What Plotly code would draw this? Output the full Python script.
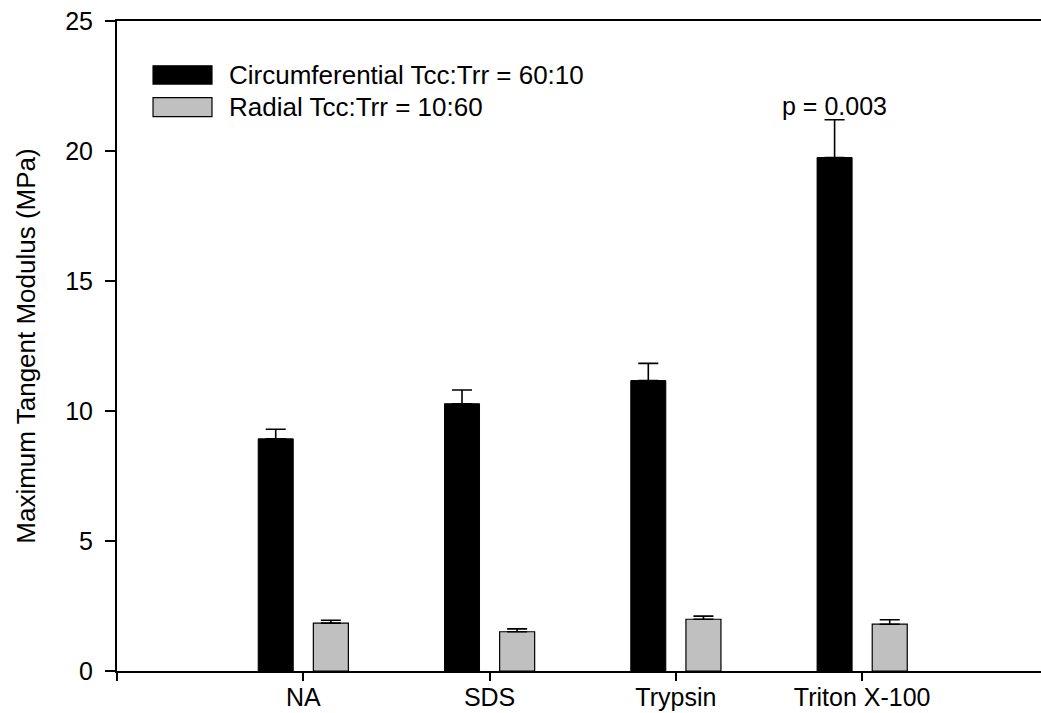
import plotly.graph_objects as go

categories = ["NA", "SDS", "Trypsin", "Triton X-100"]
circ_values = [8.93, 10.28, 11.17, 19.75]
circ_errors = [0.37, 0.53, 0.66, 1.45]
radial_values = [1.84, 1.51, 1.99, 1.80]
radial_errors = [0.11, 0.11, 0.12, 0.17]
series_names = ["Circumferential Tcc:Trr = 60:10", "Radial Tcc:Trr = 10:60"]
y_ticks = [0, 5, 10, 15, 20, 25]
annotation_text = "p = 0.003"
annotation_y = 21.74

FONT = "Liberation Sans, Arial, sans-serif"
x_pos = list(range(1, len(categories) + 1))
bar_w = 0.188
black_off = -0.242
gray_off = 0.054

fig = go.Figure()
fig.add_trace(go.Bar(
    x=x_pos, y=circ_values, name=series_names[0],
    width=bar_w, offset=black_off,
    marker=dict(color="black", line=dict(color="black", width=1)),
    error_y=dict(type="data", symmetric=False, array=circ_errors,
                 arrayminus=[0] * len(circ_errors), color="black",
                 thickness=1.6, width=10),
    showlegend=False,
))
fig.add_trace(go.Bar(
    x=x_pos, y=radial_values, name=series_names[1],
    width=bar_w, offset=gray_off,
    marker=dict(color="#c0c0c0", line=dict(color="black", width=1.2)),
    error_y=dict(type="data", symmetric=False, array=radial_errors,
                 arrayminus=[0] * len(radial_errors), color="black",
                 thickness=1.6, width=10),
    showlegend=False,
))

# p-value annotation above the Triton X-100 circumferential bar
fig.add_annotation(
    x=x_pos[3] + black_off + bar_w / 2, y=annotation_y, xref="x", yref="y",
    text=annotation_text, showarrow=False,
    font=dict(family=FONT, size=25, color="black"),
    xanchor="center", yanchor="middle",
)

# custom legend (wide swatches like the reference)
legend_items = [
    (series_names[0], "black", 0.931, 0.903),
    (series_names[1], "#c0c0c0", 0.882, 0.853),
]
for name, col, y1, y0 in legend_items:
    fig.add_shape(type="rect", xref="paper", yref="paper",
                  x0=0.039, x1=0.1028, y0=y0, y1=y1,
                  fillcolor=col, line=dict(color="black", width=1.2))
    fig.add_annotation(x=0.119, y=(y0 + y1) / 2, xref="paper", yref="paper",
                       text=name, showarrow=False, xanchor="left",
                       yanchor="middle",
                       font=dict(family=FONT, size=26, color="black"))

fig.update_layout(
    width=1041, height=713,
    margin=dict(l=117, r=0, t=21, b=42),
    plot_bgcolor="white", paper_bgcolor="white",
    font=dict(family=FONT, size=25, color="black"),
    barmode="overlay",
    xaxis=dict(
        range=[0, 4.96], tickmode="array",
        tickvals=[0] + x_pos, ticktext=[""] + categories,
        ticks="outside", ticklen=8, tickwidth=1.5, tickcolor="black",
        showline=True, linecolor="black", linewidth=2, mirror=True,
        showgrid=False, zeroline=False, ticklabelstandoff=-5,
        tickfont=dict(family=FONT, size=25, color="black"),
    ),
    yaxis=dict(
        range=[0, 25], tickmode="array", tickvals=y_ticks,
        ticks="outside", ticklen=10, tickwidth=1.5, tickcolor="black",
        showline=True, linecolor="black", linewidth=2,
        showgrid=False, zeroline=False, ticklabelstandoff=7,
        tickfont=dict(family=FONT, size=25, color="black"),
        title=dict(text="Maximum Tangent Modulus (MPa)", standoff=22,
                   font=dict(family=FONT, size=26, color="black")),
    ),
)

fig.write_html(
    "out.html",
    config={"displayModeBar": False},
    post_script="document.body.style.margin='0';document.body.style.overflow='hidden';",
)
